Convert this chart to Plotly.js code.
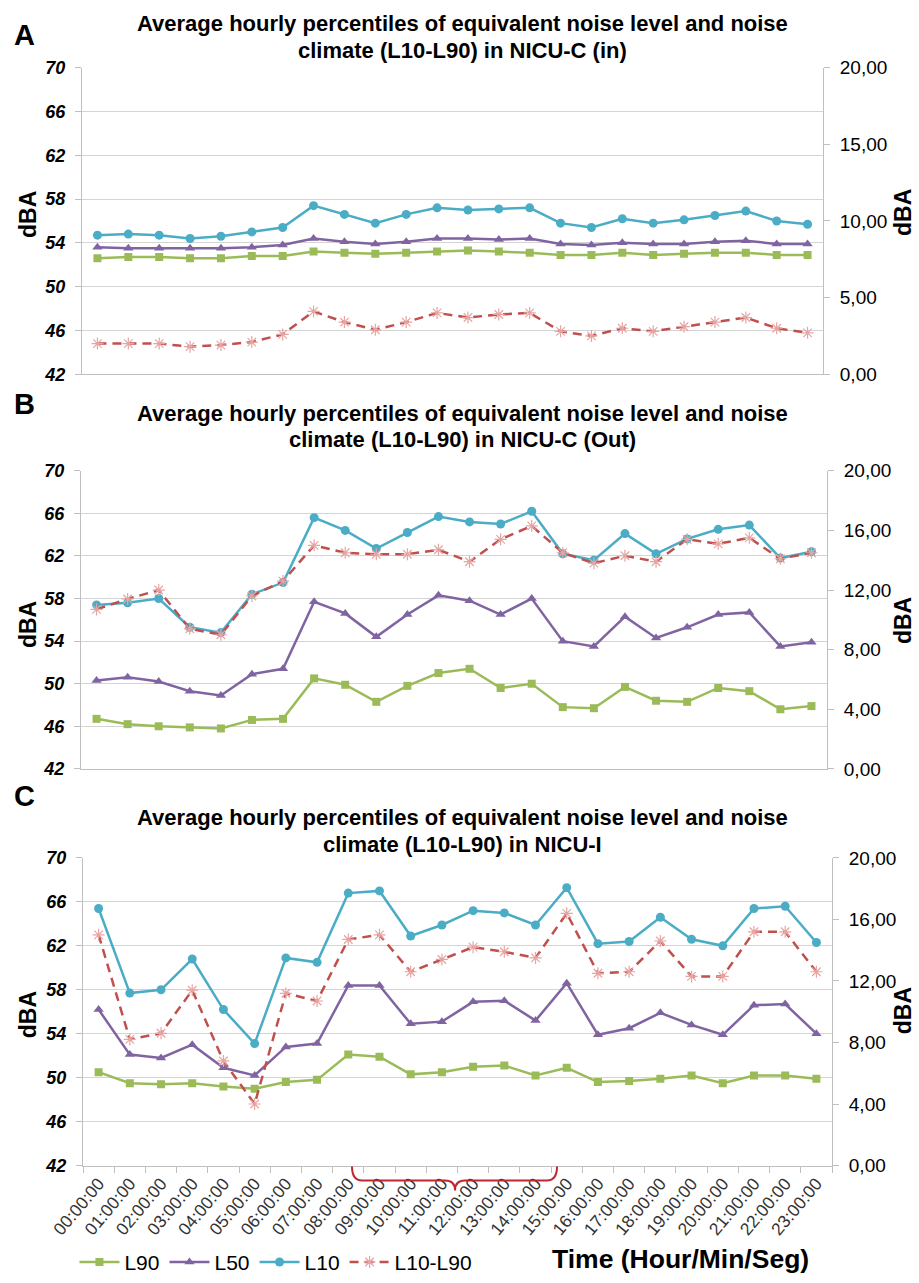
<!DOCTYPE html>
<html>
<head>
<meta charset="utf-8">
<script src="https://cdn.plot.ly/plotly-3.0.1.min.js"></script>
<style>html,body{margin:0;padding:0;background:#fff;}#chart{width:919px;height:1283px;}</style>
</head>
<body>
<div id="chart"></div>
<script>
// ---------- data ----------
const times = ['00:00:00','01:00:00','02:00:00','03:00:00','04:00:00','05:00:00','06:00:00','07:00:00',
  '08:00:00','09:00:00','10:00:00','11:00:00','12:00:00','13:00:00','14:00:00','15:00:00',
  '16:00:00','17:00:00','18:00:00','19:00:00','20:00:00','21:00:00','22:00:00','23:00:00'];

const seriesNames = ['L90', 'L50', 'L10', 'L10-L90'];

// Panel A: NICU-C (in)
const L90_A = [52.6,52.7,52.7,52.6,52.6,52.8,52.8,53.2,53.1,53.0,53.1,53.2,53.3,53.2,53.1,52.9,52.9,53.1,52.9,53.0,53.1,53.1,52.9,52.9];
const L50_A = [53.6,53.5,53.5,53.5,53.5,53.6,53.8,54.4,54.1,53.9,54.1,54.4,54.4,54.3,54.4,53.9,53.8,54.0,53.9,53.9,54.1,54.2,53.9,53.9];
const L10_A = [54.7,54.8,54.7,54.4,54.6,55.0,55.4,57.4,56.6,55.8,56.6,57.2,57.0,57.1,57.2,55.8,55.4,56.2,55.8,56.1,56.5,56.9,56.0,55.7];
const NC_A  = [2.0,2.0,2.0,1.8,1.9,2.1,2.6,4.1,3.4,2.9,3.4,4.0,3.7,3.9,4.0,2.8,2.5,3.0,2.8,3.1,3.4,3.7,3.0,2.7];

// Panel B: NICU-C (Out)
const L90_B = [46.7,46.2,46.0,45.9,45.8,46.6,46.7,50.5,49.9,48.3,49.8,51.0,51.4,49.6,50.0,47.8,47.7,49.7,48.4,48.3,49.6,49.3,47.6,47.9];
const L50_B = [50.3,50.6,50.2,49.3,48.9,50.9,51.4,57.7,56.6,54.4,56.5,58.3,57.8,56.5,58.0,54.0,53.5,56.3,54.3,55.3,56.5,56.7,53.5,53.9];
const L10_B = [57.4,57.6,58.0,55.3,54.8,58.4,59.5,65.6,64.4,62.7,64.2,65.7,65.2,65.0,66.2,62.2,61.6,64.1,62.2,63.6,64.5,64.9,61.8,62.4];
const NC_B  = [10.7,11.4,12.0,9.4,9.0,11.6,12.6,15.0,14.5,14.4,14.4,14.7,13.9,15.4,16.3,14.5,13.8,14.3,13.9,15.4,15.1,15.5,14.1,14.5];

// Panel C: NICU-I
const L90_C = [50.5,49.5,49.4,49.5,49.2,49.0,49.6,49.8,52.1,51.9,50.3,50.5,51.0,51.1,50.2,50.9,49.6,49.7,49.9,50.2,49.5,50.2,50.2,49.9];
const L50_C = [56.2,52.1,51.8,53.0,50.9,50.2,52.8,53.1,58.4,58.4,54.9,55.1,56.9,57.0,55.2,58.6,53.9,54.5,55.9,54.8,53.9,56.6,56.7,54.0];
const L10_C = [65.4,57.7,58.0,60.8,56.2,53.1,60.9,60.5,66.8,67.0,62.9,63.9,65.2,65.0,63.9,67.3,62.2,62.4,64.6,62.6,62.0,65.4,65.6,62.3];
const NC_C  = [15.0,8.2,8.6,11.4,6.8,4.0,11.2,10.7,14.7,15.0,12.6,13.4,14.2,13.9,13.5,16.4,12.5,12.6,14.6,12.3,12.3,15.2,15.2,12.6];

const leftTicks = [42,46,50,54,58,62,66,70];
const rightTicksA = [0,5,10,15,20];
const rightTicksBC = [0,4,8,12,16,20];

const panelTitles = [
  ['Average hourly percentiles of equivalent noise level and noise', 'climate (L10-L90) in NICU-C (in)'],
  ['Average hourly percentiles of equivalent noise level and noise', 'climate (L10-L90) in NICU-C (Out)'],
  ['Average hourly percentiles of equivalent noise level and noise', 'climate (L10-L90) in NICU-I']
];
const panelLetters = ['A','B','C'];
const xAxisTitle = 'Time (Hour/Min/Seg)';
const yAxisTitle = 'dBA';

// ---------- styling / layout ----------
const W = 919, H = 1283;
const FONT = 'Liberation Sans, Arial, sans-serif';
const colors = {L90:'#9BBB59', L50:'#8064A2', L10:'#4BACC6', NC:'#C0504D'};
const fmt = v => v.toFixed(2).replace('.', ',');

// pixel geometry of each panel's plot area [left, right, top, bottom]
const boxes = [
  [82, 823, 68, 376],
  [81, 827, 473, 772.5],
  [83, 832, 862, 1171]
];
const px2x = p => p / W;
const px2y = p => 1 - p / H;

const panels = [
  {L90:L90_A, L50:L50_A, L10:L10_A, NC:NC_A, rt:rightTicksA},
  {L90:L90_B, L50:L50_B, L10:L10_B, NC:NC_B, rt:rightTicksBC},
  {L90:L90_C, L50:L50_C, L10:L10_C, NC:NC_C, rt:rightTicksBC}
];

const data = [];
const layout = {
  width: W, height: H,
  margin: {l:0, r:0, t:0, b:0},
  paper_bgcolor: '#fff', plot_bgcolor: 'rgba(0,0,0,0)',
  font: {family: FONT, color: '#000'},
  showlegend: true,
  legend: {
    orientation: 'h', x: 0.081, xanchor: 'left', y: 0.0115, yanchor: 'middle',
    font: {family: FONT, size: 21, color: '#000'},
    bgcolor: 'rgba(0,0,0,0)', itemwidth: 40, tracegroupgap: 0
  },
  annotations: [],
  shapes: []
};

panels.forEach((p, k) => {
  const xa = k === 0 ? 'x' : 'x' + (k + 1);
  const yl = k === 0 ? 'y' : 'y' + (2 * k + 1);
  const yr = 'y' + (2 * k + 2);
  const b = boxes[k];
  const showLeg = k === 0;

  data.push({x: times, y: p.L90, name: seriesNames[0], type: 'scatter', mode: 'lines+markers',
    xaxis: xa, yaxis: yl, showlegend: showLeg, legendgroup: 'a',
    line: {color: colors.L90, width: 2.5}, marker: {symbol: 'square', size: 8, color: colors.L90}});
  data.push({x: times, y: p.L50, name: seriesNames[1], type: 'scatter', mode: 'lines+markers',
    xaxis: xa, yaxis: yl, showlegend: showLeg, legendgroup: 'b',
    line: {color: colors.L50, width: 2.5}, marker: {symbol: 'triangle-up', size: 9, color: colors.L50}});
  data.push({x: times, y: p.L10, name: seriesNames[2], type: 'scatter', mode: 'lines+markers',
    xaxis: xa, yaxis: yl, showlegend: showLeg, legendgroup: 'c',
    line: {color: colors.L10, width: 2.5}, marker: {symbol: 'circle', size: 9, color: colors.L10}});
  data.push({x: times, y: p.NC, name: seriesNames[3], type: 'scatter', mode: 'lines+markers',
    xaxis: xa, yaxis: yr, showlegend: showLeg, legendgroup: 'd',
    line: {color: colors.NC, width: 2.5, dash: '9px,6px'},
    marker: {symbol: 'asterisk-open', size: 10, color: '#E6A5A3', line: {color: '#E6A5A3', width: 1.2}}});

  const xName = k === 0 ? 'xaxis' : 'xaxis' + (k + 1);
  const ylName = k === 0 ? 'yaxis' : 'yaxis' + (2 * k + 1);
  const yrName = 'yaxis' + (2 * k + 2);

  layout[xName] = {
    domain: [px2x(b[0]), px2x(b[1])], anchor: yl, type: 'category',
    range: [-0.5, 23.5], showgrid: false, zeroline: false,
    showline: true, linecolor: '#BFBFBF', linewidth: 1,
    showticklabels: k === 2,
    ticks: k === 2 ? 'outside' : '', tickson: 'boundaries', ticklen: 6, tickcolor: '#BFBFBF',
    tickangle: -50, tickfont: {family: FONT, size: 17.5, color: '#333'}
  };
  layout[ylName] = {
    domain: [px2y(b[3]), px2y(b[2])], anchor: xa, range: [42, 70],
    tickvals: leftTicks, ticktext: leftTicks.map(String),
    showgrid: true, gridcolor: '#D4D4D4', gridwidth: 1, zeroline: false,
    showline: true, linecolor: '#BFBFBF', linewidth: 1,
    ticks: 'outside', ticklen: 6, tickcolor: '#BFBFBF', ticklabelstandoff: 6,
    tickfont: {family: FONT, size: 18, color: '#000', weight: 'bold', style: 'italic'}
  };
  layout[yrName] = {
    overlaying: yl, anchor: xa, side: 'right', range: [0, 20],
    tickvals: p.rt, ticktext: p.rt.map(fmt),
    showgrid: false, zeroline: false,
    showline: true, linecolor: '#BFBFBF', linewidth: 1,
    ticks: 'outside', ticklen: 6, tickcolor: '#BFBFBF', ticklabelstandoff: 6,
    tickfont: {family: FONT, size: 19, color: '#000'}
  };
});

// text annotations
const titleY = [[24, 51], [415, 442], [821, 848]];
const letterY = [35, 406, 800];
const dbaLeftY = [216, 628, 1020];
const dbaRightY = [214, 624, 1016];
for (let k = 0; k < 3; k++) {
  layout.annotations.push({text: panelLetters[k], xref: 'paper', yref: 'paper', x: px2x(24), y: px2y(letterY[k]),
    xanchor: 'center', yanchor: 'middle', showarrow: false, font: {family: FONT, size: 29, weight: 'bold', color: '#000'}});
  for (let j = 0; j < 2; j++) {
    layout.annotations.push({text: panelTitles[k][j], xref: 'paper', yref: 'paper', x: px2x(462), y: px2y(titleY[k][j]),
      xanchor: 'center', yanchor: 'middle', showarrow: false, font: {family: FONT, size: 22, weight: 'bold', color: '#000'}});
  }
  layout.annotations.push({text: yAxisTitle, xref: 'paper', yref: 'paper', x: px2x(28), y: px2y(dbaLeftY[k]),
    xanchor: 'center', yanchor: 'middle', textangle: -90, showarrow: false, font: {family: FONT, size: 23, weight: 'bold', color: '#000'}});
  layout.annotations.push({text: yAxisTitle, xref: 'paper', yref: 'paper', x: px2x(903), y: px2y(dbaRightY[k]),
    xanchor: 'center', yanchor: 'middle', textangle: -90, showarrow: false, font: {family: FONT, size: 23, weight: 'bold', color: '#000'}});
}
layout.annotations.push({text: xAxisTitle, xref: 'paper', yref: 'paper', x: px2x(680), y: px2y(1265),
  xanchor: 'center', yanchor: 'middle', showarrow: false, font: {family: FONT, size: 26.5, weight: 'bold', color: '#000'}});

// red curly brace under panel C (decorative)
const bx0 = px2x(352), bx1 = px2x(557), bxm = px2x(455);
const by0 = px2y(1172), by1 = px2y(1186), bym = px2y(1196);
const bq = px2x(10);
layout.shapes.push({
  type: 'path', xref: 'paper', yref: 'paper',
  path: `M ${bx0},${by0} Q ${bx0},${by1} ${bx0 + bq},${by1} L ${bxm - bq},${by1} Q ${bxm},${by1} ${bxm},${bym} Q ${bxm},${by1} ${bxm + bq},${by1} L ${bx1 - bq},${by1} Q ${bx1},${by1} ${bx1},${by0}`,
  line: {color: '#C0262D', width: 2}
});

Plotly.newPlot('chart', data, layout, {staticPlot: true, displayModeBar: false});
</script>
</body>
</html>
